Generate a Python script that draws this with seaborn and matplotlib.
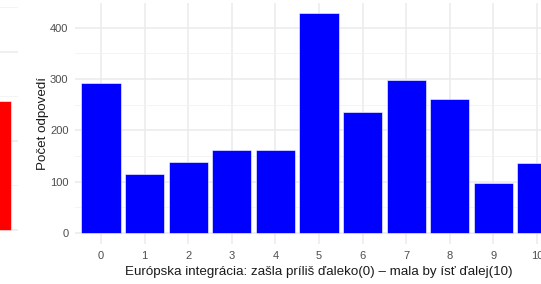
import pandas as pd
import matplotlib.pyplot as plt
import seaborn as sns
from matplotlib.ticker import MultipleLocator

# values
scale_labels = ["0", "1", "2", "3", "4", "5", "6", "7", "8", "9", "10"]
counts = [292, 115, 139, 162, 161, 428, 235, 299, 261, 98, 137]
left_labels = ["x"]
left_counts = [145]

x_title = "Európska integrácia: zašla príliš ďaleko(0) – mala by ísť ďalej(10)"
y_title = "Počet odpovedí"

W, H = 541, 284
sns.set_theme(style="white")
plt.rcParams["font.family"] = ["Liberation Sans", "DejaVu Sans"]

fig = plt.figure(figsize=(W / 100, H / 100), dpi=100)


def box(left_px, top_px, right_px, bottom_px):
    return [left_px / W, 1 - bottom_px / H, (right_px - left_px) / W, (bottom_px - top_px) / H]


def style_grid(ax):
    ax.yaxis.set_minor_locator(MultipleLocator(50))
    ax.grid(which="major", color="#EBEBEB", linewidth=1.1)
    ax.grid(which="minor", axis="y", color="#F2F2F2", linewidth=0.6)
    ax.set_axisbelow(True)
    for s in ax.spines.values():
        s.set_visible(False)
    ax.tick_params(length=0, colors="#4D4D4D", labelsize=8)
    ax.tick_params(axis="y", pad=4.5)
    ax.tick_params(axis="x", pad=5)


# neighbouring panel, mostly off canvas
ax0 = fig.add_axes(box(-38, 3, 18, 244))
left_df = pd.DataFrame({"k": left_labels, "n": left_counts})
sns.barplot(data=left_df, x="k", y="n", color="red", saturation=1, width=0.9,
            edgecolor="white", linewidth=0.4, ax=ax0)
ax0.set_xlim(-0.6, 0.6)
ax0.set_ylim(-15.7, 254.5)
ax0.yaxis.set_major_locator(MultipleLocator(100))
style_grid(ax0)
ax0.set_xlabel("")
ax0.set_ylabel("")
ax0.set_xticklabels([])
ax0.set_yticklabels([])

# main panel
ax = fig.add_axes(box(74.8, 3, 563.1, 243.9))
df = pd.DataFrame({"scale": scale_labels, "count": counts})
sns.barplot(data=df, x="scale", y="count", order=scale_labels, color="blue",
            saturation=1, width=0.9, edgecolor="white", linewidth=0.4, ax=ax)
ax.set_xlim(-0.6, 10.6)
ax.set_ylim(-21.35, 448.4)
ax.yaxis.set_major_locator(MultipleLocator(100))
style_grid(ax)
ax.set_xlabel(x_title, fontsize=9.6, color="#1A1A1A", labelpad=4)
ax.set_ylabel(y_title, fontsize=9.6, color="#1A1A1A", labelpad=1)

fig.savefig("out.png", dpi=100)
